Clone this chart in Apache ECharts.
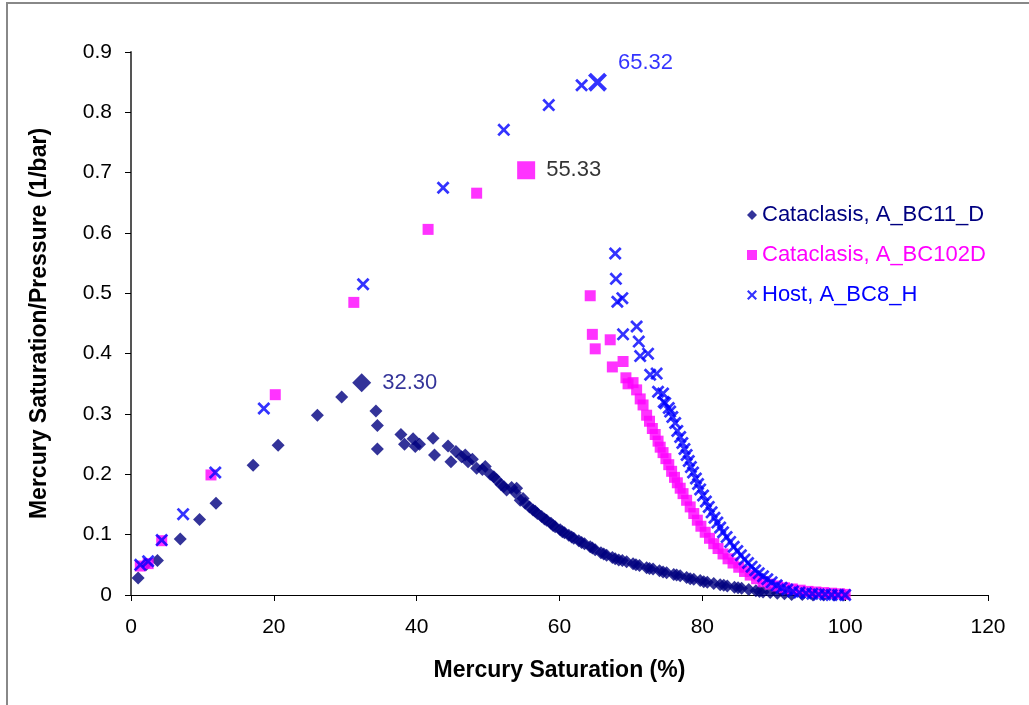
<!DOCTYPE html>
<html>
<head>
<meta charset="utf-8">
<script src="https://cdn.jsdelivr.net/npm/echarts@6/dist/echarts.min.js"></script>
<style>
  html, body { margin: 0; padding: 0; background: #fff; }
  #chart { width: 1029px; height: 705px; }
</style>
</head>
<body>
<div id="chart"></div>
<script>
// Cataclasis, A_BC11_D  [saturation %, saturation/pressure]
const cataBC11 = [
  [1.0, 0.028], [2.1, 0.050], [3.7, 0.057], [6.9, 0.093], [9.6, 0.125], [11.9, 0.152],
  [17.1, 0.215], [20.6, 0.248], [26.1, 0.298], [29.5, 0.328], [34.3, 0.305], [34.5, 0.281],
  [34.5, 0.242], [37.8, 0.266], [38.3, 0.250], [39.5, 0.259], [39.8, 0.246], [40.4, 0.250],
  [42.3, 0.260], [42.5, 0.232], [44.4, 0.247], [44.8, 0.221], [45.5, 0.238], [46.3, 0.229],
  [46.8, 0.232], [47.2, 0.221], [47.8, 0.225], [48.4, 0.210], [49.2, 0.208], [49.6, 0.213],
  [50.3, 0.200], [50.8, 0.196], [51.2, 0.191], [51.8, 0.183], [52.2, 0.180], [52.6, 0.174],
  [53.3, 0.178], [53.8, 0.170], [54.0, 0.177], [54.5, 0.157], [54.9, 0.160], [55.2, 0.152],
  [55.8, 0.146], [56.3, 0.141], [56.6, 0.139], [56.9, 0.135], [57.5, 0.130], [57.9, 0.126],
  [58.2, 0.124], [58.8, 0.119], [59.1, 0.115], [59.4, 0.113], [60.1, 0.108], [60.4, 0.105],
  [60.7, 0.103], [61.3, 0.099], [61.7, 0.096], [62.0, 0.094], [62.7, 0.090], [63.1, 0.087],
  [63.5, 0.085], [64.3, 0.080], [64.6, 0.078], [65.0, 0.075], [65.8, 0.070], [66.2, 0.068],
  [66.6, 0.066], [67.4, 0.062], [67.8, 0.060], [68.3, 0.058], [68.8, 0.057], [69.4, 0.055],
  [70.3, 0.052], [70.7, 0.050], [71.2, 0.049], [72.2, 0.045], [72.6, 0.044], [73.1, 0.043],
  [74.0, 0.040], [74.5, 0.038], [75.0, 0.037], [76.0, 0.034], [76.4, 0.033], [76.9, 0.032],
  [77.8, 0.029], [78.3, 0.027], [78.8, 0.026], [79.7, 0.024], [80.2, 0.022], [80.7, 0.021],
  [81.6, 0.019], [82.5, 0.017], [83.0, 0.016], [83.5, 0.015], [84.5, 0.013], [85.0, 0.012],
  [85.5, 0.011], [86.5, 0.009], [87.5, 0.007], [88.0, 0.006], [88.5, 0.005], [89.5, 0.004],
  [90.5, 0.003], [91.5, 0.002], [92.5, 0.001], [94.0, 0.001], [95.5, 0.0], [97.0, 0.0],
  [98.5, 0.0], [99.8, 0.0]
]
const cataBC11Peak = [32.30, 0.352]

// Cataclasis, A_BC102D
const cataBC102 = [
  [1.3, 0.048], [2.4, 0.052], [4.3, 0.090], [11.2, 0.199], [20.2, 0.332], [31.2, 0.485],
  [41.6, 0.606], [48.4, 0.666], [64.3, 0.496], [64.6, 0.432], [65.0, 0.408], [67.1, 0.423],
  [67.4, 0.378], [68.9, 0.387], [69.3, 0.360], [69.6, 0.350], [70.3, 0.352], [70.8, 0.340],
  [71.3, 0.325], [71.7, 0.315], [72.2, 0.298], [72.6, 0.288], [73.0, 0.276], [73.4, 0.266],
  [73.8, 0.255], [74.1, 0.245], [74.5, 0.236], [74.9, 0.226], [75.3, 0.216], [75.7, 0.205],
  [76.1, 0.195], [76.5, 0.186], [76.9, 0.177], [77.3, 0.168], [77.8, 0.157], [78.3, 0.146],
  [78.8, 0.135], [79.3, 0.124], [79.8, 0.114], [80.4, 0.104], [81.0, 0.094], [81.6, 0.085],
  [82.2, 0.077], [82.9, 0.068], [83.6, 0.060], [84.3, 0.053], [85.1, 0.046], [85.9, 0.039],
  [86.7, 0.033], [87.6, 0.027], [88.5, 0.022], [89.5, 0.018], [90.5, 0.015], [91.5, 0.012],
  [92.6, 0.010], [93.7, 0.008], [94.8, 0.006], [95.9, 0.005], [97.0, 0.004], [98.1, 0.003],
  [99.2, 0.002], [100.0, 0.001]
]
const cataBC102Peak = [55.33, 0.704]

// Host, A_BC8_H
const hostBC8 = [
  [1.3, 0.050], [2.4, 0.056], [4.3, 0.091], [7.3, 0.134], [11.8, 0.203], [18.6, 0.309],
  [32.5, 0.515], [43.7, 0.675], [52.2, 0.771], [58.5, 0.812], [63.1, 0.845], [67.8, 0.566],
  [67.9, 0.524], [68.1, 0.486], [68.8, 0.492], [68.9, 0.432], [70.8, 0.445], [71.1, 0.420],
  [71.3, 0.396], [72.4, 0.400], [72.7, 0.365], [73.6, 0.367], [73.8, 0.337], [74.5, 0.334],
  [74.6, 0.320], [74.8, 0.318], [75.3, 0.310], [75.5, 0.304], [75.8, 0.295], [76.2, 0.285],
  [76.5, 0.272], [76.9, 0.262], [77.2, 0.252], [77.5, 0.242], [77.8, 0.232], [78.1, 0.222],
  [78.4, 0.212], [78.7, 0.203], [79.1, 0.193], [79.4, 0.184], [79.7, 0.175], [80.1, 0.165],
  [80.5, 0.155], [80.9, 0.146], [81.3, 0.137], [81.7, 0.128], [82.1, 0.120], [82.5, 0.112],
  [82.9, 0.104], [83.4, 0.096], [83.9, 0.088], [84.4, 0.080], [84.9, 0.073], [85.4, 0.066],
  [85.9, 0.059], [86.4, 0.053], [86.9, 0.047], [87.4, 0.041], [87.9, 0.036], [88.5, 0.031],
  [89.1, 0.026], [89.7, 0.021], [90.4, 0.016], [91.1, 0.012], [91.9, 0.009], [92.7, 0.006],
  [93.6, 0.004], [94.5, 0.003], [95.4, 0.002], [96.3, 0.001], [97.2, 0.001], [98.1, 0.0],
  [99.0, 0.0], [100.0, 0.0]
]
const hostBC8Peak = [65.32, 0.850]

const seriesNames = ['Cataclasis, A_BC11_D', 'Cataclasis, A_BC102D', 'Host, A_BC8_H']
const seriesColors = ['#000080', '#FF00FF', '#0000FF']

const FONT = 'Liberation Sans, Arial, sans-serif'
// filled "x" marker
const CROSS = 'path://M0,1.5L1.5,0L5,3.5L8.5,0L10,1.5L6.5,5L10,8.5L8.5,10L5,6.5L1.5,10L0,8.5L3.5,5Z'

const chart = echarts.init(document.getElementById('chart'))

const peakLabel = (color, extra) => Object.assign({
  show: true,
  position: 'right',
  distance: 11,
  color: color,
  fontSize: 22,
  fontFamily: FONT,
  formatter: (p) => p.value[0].toFixed(2),
}, extra)

const option = {
  animation: false,
  color: seriesColors,
  graphic: [{
    type: 'rect',
    shape: { x: 7, y: 3, width: 1060, height: 740 },
    style: { fill: 'none', stroke: '#888', lineWidth: 2 },
    silent: true,
  }],
  grid: {
    left: 131,
    right: 41,
    top: 52,
    bottom: 110,
  },
  legend: {
    orient: 'vertical',
    left: 742,
    top: 199,
    itemWidth: 10,
    itemHeight: 10,
    itemGap: 18,
    data: seriesNames,
    textStyle: {
      fontSize: 22,
      fontFamily: FONT,
      color: 'inherit',
    },
  },
  xAxis: {
    type: 'value',
    min: 0,
    max: 120,
    interval: 20,
    name: 'Mercury Saturation (%)',
    nameLocation: 'middle',
    nameGap: 64,
    nameTextStyle: { fontSize: 23, fontWeight: 'bold', fontFamily: FONT, color: '#000' },
    splitLine: { show: false },
    axisLine: { lineStyle: { color: '#000', width: 1 } },
    axisTick: { show: true, inside: false, length: 6, lineStyle: { color: '#000' } },
    axisLabel: { fontSize: 21, fontFamily: FONT, color: '#000', margin: 22 },
  },
  yAxis: {
    type: 'value',
    min: 0,
    max: 0.9,
    interval: 0.1,
    name: 'Mercury Saturation/Pressure (1/bar)',
    nameLocation: 'middle',
    nameGap: 80,
    nameTextStyle: { fontSize: 23, fontWeight: 'bold', fontFamily: FONT, color: '#000' },
    splitLine: { show: false },
    axisLine: { show: true, lineStyle: { color: '#555', width: 2 } },
    axisTick: { show: true, inside: false, length: 6, lineStyle: { color: '#000' } },
    axisLabel: { fontSize: 21, fontFamily: FONT, color: '#000', margin: 19 },
  },
  series: [
    {
      name: seriesNames[0],
      type: 'scatter',
      symbol: 'diamond',
      symbolSize: 13,
      itemStyle: { color: seriesColors[0] },
      data: cataBC11.concat([{ value: cataBC11Peak, symbolSize: 19, label: peakLabel('#000080') }]),
    },
    {
      name: seriesNames[1],
      type: 'scatter',
      symbol: 'rect',
      symbolSize: 11,
      itemStyle: { color: seriesColors[1] },
      data: cataBC102.concat([{ value: cataBC102Peak, symbolSize: 18, label: peakLabel('#000') }]),
    },
    {
      name: seriesNames[2],
      type: 'scatter',
      symbol: CROSS,
      symbolSize: 13,
      itemStyle: { color: seriesColors[2] },
      data: hostBC8.concat([{ value: hostBC8Peak, symbolSize: 19, label: peakLabel('#0000FF', { offset: [0, -19] }) }]),
    },
  ],
}

chart.setOption(option)
</script>
</body>
</html>
